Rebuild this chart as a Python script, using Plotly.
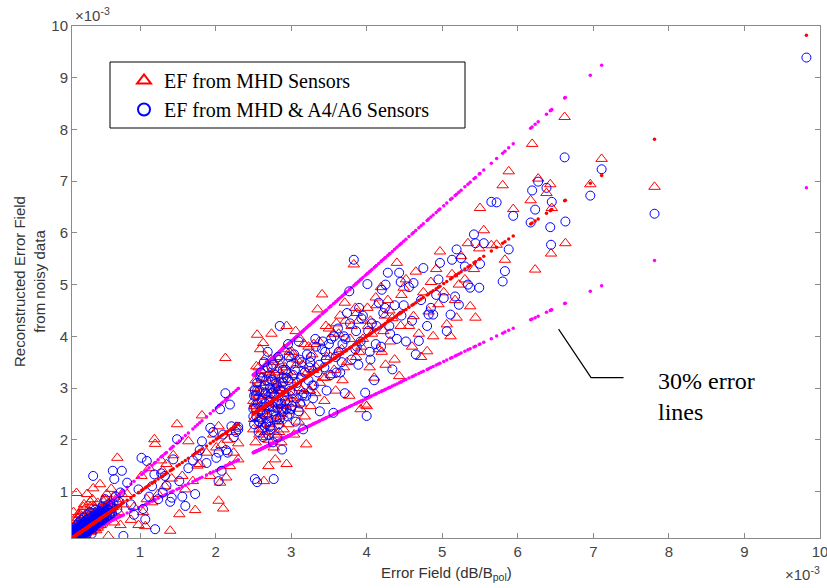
import plotly.graph_objects as go

# ---- data (units of 1e-3) : true EF, EF from MHD sensors, EF from MHD & A4/A6 sensors ----
true_low = [
    0.12,0.13,0.14,0.15,0.15,0.16,0.17,0.18,0.18,0.19,0.20,0.21,0.22,0.22,0.23,0.24,0.25,0.26,0.27,0.28,
    0.29,0.30,0.31,0.32,0.33,0.34,0.35,0.36,0.37,0.38,0.40,0.41,0.42,0.44,0.45,0.47,0.48,0.50,0.52,0.54,
    0.56,0.58,0.60,0.62,0.64,0.66,0.68,0.70,0.72,0.74,0.76,0.78,
    0.11,0.12,0.14,0.16,0.17,0.19,0.21,0.23,0.24,0.26,0.28,0.30,0.32,0.33,0.35,0.36,0.38,0.39,0.41,0.43,
    0.46,0.49,0.51,0.53,0.55,0.57,0.59,0.61,0.63,0.65,0.12,0.15,0.18,0.22,0.25,0.29,0.34,0.40,0.44,0.50,
    0.10,0.11,0.11,0.12,0.13,0.13,0.14,0.15,0.16,0.16,0.17,0.18,0.19,0.20,0.20,0.21,0.22,0.23,0.24,0.25,
    0.25,0.26,0.27,0.28,0.29,0.30,0.31,0.32,0.33,0.34,0.35,0.36,0.37,0.38,0.39,0.40,0.41,0.42,0.43,0.44,
    0.45,0.46,0.47,0.48,0.49,0.50,0.51,0.52,0.53,0.55,0.57,0.58,0.60,0.14,0.18,0.22,0.26,0.30,0.34,0.38,
    0.10,0.11,0.12,0.13,0.14,0.15,0.16,0.17,0.18,0.19,0.20,0.21,0.22,0.23,0.24,0.25,0.26,0.27,0.28,0.29,
    0.30,0.31,0.32,0.33,0.34,0.35,0.36,0.37,0.38,0.39,0.40,0.42,0.44,0.46,0.48,0.50,0.52,0.54,0.13,0.17,
    0.21,0.25,0.29,0.33,0.37,0.41,0.45,0.20,0.28,0.36,
]
mhd_low = [
    0.15,0.30,0.12,0.45,0.20,0.97,0.25,0.14,0.55,0.35,0.22,0.40,0.62,0.18,0.30,0.50,0.28,0.75,0.33,0.20,
    0.45,0.95,0.38,0.26,0.55,0.70,0.30,0.48,0.85,1.06,0.42,0.60,0.25,0.78,0.50,1.14,0.35,0.65,0.80,0.45,
    0.95,0.14,0.55,1.05,0.70,0.40,0.85,1.65,0.60,0.35,0.95,0.75,
    0.12,0.22,0.35,0.16,0.40,0.28,0.55,0.20,0.38,0.65,0.30,0.42,0.52,0.24,0.60,0.45,0.33,0.72,0.50,0.40,
    0.58,0.68,0.45,0.85,0.62,0.50,0.75,0.80,0.58,0.90,0.60,0.26,0.48,0.12,0.70,0.35,0.80,0.55,0.30,0.45,
    0.13,0.10,0.20,0.14,0.25,0.11,0.18,0.28,0.15,0.22,0.32,0.12,0.26,0.19,0.35,0.24,0.16,0.30,0.38,0.22,
    0.33,0.27,0.42,0.20,0.36,0.45,0.29,0.40,0.25,0.48,0.38,0.32,0.52,0.44,0.28,0.55,0.36,0.47,0.58,0.41,
    0.34,0.60,0.52,0.44,0.65,0.38,0.56,0.68,0.48,0.62,0.72,0.50,0.66,0.18,0.12,0.30,0.15,0.40,0.22,0.50,
    0.16,0.10,0.22,0.13,0.26,0.17,0.12,0.30,0.21,0.15,0.34,0.24,0.18,0.38,0.27,0.21,0.41,0.31,0.24,0.45,
    0.34,0.28,0.48,0.37,0.31,0.52,0.40,0.34,0.55,0.44,0.38,0.58,0.47,0.62,0.42,0.66,0.55,0.70,0.11,0.15,
    0.14,0.20,0.33,0.26,0.45,0.30,0.52,0.12,0.16,0.24,
]
a4a6_low = [
    0.14,0.20,0.25,0.18,0.30,0.22,0.35,0.15,0.28,0.40,0.20,0.32,0.26,0.45,0.30,0.22,0.38,0.50,0.28,0.42,
    0.35,0.55,0.30,0.48,0.40,0.60,0.38,0.52,0.45,1.30,0.42,0.65,0.50,0.40,0.58,0.62,0.55,0.70,0.48,0.85,
    0.60,0.75,0.55,0.68,1.40,1.24,0.90,0.66,0.80,0.98,1.40,0.14,
    0.12,0.18,0.22,0.28,0.20,0.26,0.30,0.34,0.25,0.36,0.32,0.40,0.35,0.44,0.42,0.38,0.50,0.46,0.55,0.48,
    0.52,0.60,0.58,0.62,0.50,0.66,0.64,0.72,0.58,0.76,0.16,0.24,0.12,0.36,0.18,0.45,0.28,0.52,0.62,0.44,
    0.10,0.16,0.11,0.19,0.13,0.22,0.17,0.12,0.24,0.15,0.20,0.26,0.14,0.23,0.30,0.18,0.27,0.33,0.21,0.29,
    0.16,0.35,0.25,0.31,0.38,0.24,0.34,0.28,0.41,0.36,0.30,0.44,0.33,0.40,0.47,0.36,0.43,0.50,0.39,0.46,
    0.53,0.42,0.49,0.56,0.45,0.52,0.58,0.48,0.55,0.60,0.52,0.63,0.57,0.12,0.14,0.17,0.20,0.22,0.26,0.30,
    0.14,0.12,0.18,0.15,0.21,0.13,0.19,0.24,0.16,0.22,0.27,0.19,0.25,0.30,0.21,0.28,0.33,0.24,0.31,0.36,
    0.27,0.34,0.39,0.30,0.37,0.42,0.33,0.40,0.45,0.36,0.43,0.48,0.41,0.53,0.46,0.57,0.50,0.61,0.10,0.13,
    0.16,0.19,0.23,0.27,0.31,0.35,0.39,0.11,0.14,0.18,
]

true_mid = [
    0.83,0.88,0.92,0.98,1.02,1.04,1.07,1.09,1.12,1.16,1.19,1.20,1.24,1.28,1.30,1.33,1.35,1.40,1.42,1.44,
    1.49,1.52,1.56,1.60,1.64,1.70,1.73,1.76,1.79,1.82,1.88,1.93,1.97,2.01,2.04,2.04,2.06,2.08,2.10,2.13,
    2.14,2.16,2.19,2.21,2.24,2.27,2.30,2.30,
]
mhd_mid = [
    0.95,0.45,0.70,0.35,1.30,0.60,0.33,0.85,1.45,0.79,2.01,1.92,0.95,1.60,1.40,1.10,1.53,0.24,1.25,1.70,
    2.30,0.56,1.30,1.04,1.97,1.20,0.64,1.50,1.53,2.47,1.75,1.30,2.10,1.85,2.26,0.82,1.17,1.90,0.67,3.58,
    1.27,2.00,1.49,2.15,1.75,2.25,1.93,1.62,
]
a4a6_mid = [
    1.17,0.75,0.55,1.04,1.65,0.66,0.46,1.59,0.90,1.10,1.33,0.27,0.85,1.35,0.98,1.30,1.11,0.80,0.88,1.62,
    2.01,1.20,0.90,0.72,1.45,1.60,0.95,1.69,1.80,1.97,1.55,2.23,2.15,1.65,1.20,1.75,2.59,1.40,2.10,2.90,
    1.80,1.75,2.68,2.26,2.05,2.15,2.20,2.25,
]

true_dense = [
    2.50,2.51,2.52,2.53,2.54,2.55,2.56,2.57,2.58,2.59,2.60,2.61,2.62,2.63,2.64,2.65,2.66,2.67,2.68,2.69,
    2.70,2.71,2.72,2.73,2.74,2.75,2.76,2.77,2.78,2.79,2.80,2.81,2.82,2.83,2.84,2.85,2.86,2.87,2.88,2.89,
    2.90,2.92,2.94,2.96,2.98,3.00,3.02,3.04,3.06,3.08,3.10,3.12,3.14,3.16,3.18,3.20,
    3.23,3.26,3.29,3.32,3.35,3.38,3.41,3.44,3.47,3.50,
    3.53,3.56,3.59,3.62,3.65,3.68,3.71,3.74,3.77,3.80,
    3.83,3.86,3.89,3.92,3.95,3.98,4.01,4.04,4.07,4.10,
    4.13,4.16,4.19,4.22,4.25,4.28,4.31,4.34,4.37,4.40,4.43,4.46,
    2.94,4.00,2.55,2.70,2.75,2.80,2.85,2.90,3.00,3.05,3.15,3.25,3.30,3.45,3.60,3.70,3.85,3.90,4.05,4.20,
    4.30,4.45,2.52,2.58,2.62,2.66,2.72,2.76,2.82,2.88,2.96,3.10,
    2.50,2.51,2.53,2.55,2.57,2.59,2.61,2.63,2.65,2.67,2.69,2.71,2.73,2.75,2.77,2.79,2.81,2.83,2.85,2.87,
    2.89,2.91,2.93,2.95,2.97,2.99,3.01,3.03,3.07,3.11,3.13,3.17,3.21,3.24,3.28,3.33,3.37,3.42,3.46,3.52,
    3.57,3.63,3.67,3.72,3.78,3.87,3.93,4.02,4.12,4.24,
]
mhd_dense = [
    2.20,3.00,2.65,1.95,3.42,4.03,2.40,2.85,2.10,3.75,2.55,3.20,2.30,3.87,1.20,2.75,3.35,2.05,2.90,2.45,
    1.49,3.10,2.60,3.55,4.05,2.25,2.95,1.85,3.30,1.62,2.70,3.60,2.35,3.05,2.15,2.80,3.45,1.95,2.50,3.15,
    2.65,3.40,4.20,2.30,3.70,2.85,3.25,2.10,4.10,3.55,2.60,3.95,2.95,3.30,2.45,1.91,
    3.80,2.65,3.35,2.90,4.52,3.10,4.81,2.75,3.60,4.15,
    3.25,4.05,2.95,3.70,4.40,3.15,4.65,3.50,2.85,4.20,
    5.39,3.60,4.30,2.59,3.95,2.68,4.55,3.40,4.05,3.20,
    4.60,3.75,4.95,4.10,3.45,4.70,3.90,4.35,3.55,5.42,3.23,4.80,
    1.53,2.65,2.90,2.00,3.20,2.40,3.00,2.20,3.60,2.70,3.45,2.95,3.85,3.20,4.25,3.40,4.55,3.70,4.30,3.70,
    4.50,4.20,2.70,3.10,2.55,2.15,3.30,2.60,2.95,3.25,2.70,2.35,
    2.75,2.40,3.15,2.60,3.40,2.90,2.20,3.05,2.50,3.60,2.85,2.30,3.25,2.70,3.50,2.10,2.95,3.35,2.45,3.10,
    2.65,3.75,2.90,3.30,2.55,3.15,3.70,2.80,3.45,3.00,2.70,3.85,3.30,2.95,3.65,3.40,3.90,3.20,4.20,3.60,
    3.35,4.05,3.75,4.30,3.95,4.45,3.80,4.20,4.75,4.40,
]
a4a6_dense = [
    2.60,2.30,1.24,2.85,2.45,3.10,2.70,2.15,2.95,2.55,3.30,2.40,2.80,2.05,3.50,2.25,2.90,3.15,2.50,3.70,
    2.35,2.75,3.00,2.20,3.40,2.65,1.95,1.24,2.85,3.25,2.45,3.05,2.60,3.60,2.30,4.20,2.95,2.70,1.81,3.35,
    2.55,2.75,3.20,3.85,2.50,3.45,2.90,3.65,2.35,3.10,3.90,2.70,3.50,2.20,3.30,2.85,
    3.15,3.60,2.80,3.95,3.30,2.55,3.75,3.40,2.95,3.85,
    3.95,2.52,3.60,4.15,3.30,3.85,2.90,4.45,4.87,3.55,
    5.48,4.10,3.45,3.90,4.40,2.91,5.01,3.70,4.25,3.15,
    4.20,4.65,3.80,4.45,5.00,5.23,4.05,3.36,4.60,3.95,5.23,4.40,
    2.60,2.46,1.18,2.10,2.90,3.10,2.40,3.20,2.60,3.35,2.85,3.50,3.05,3.70,3.30,4.00,3.75,4.55,3.55,4.90,
    4.20,5.05,2.95,2.35,3.20,2.70,2.25,3.45,2.05,2.95,3.15,2.55,
    2.45,2.85,2.60,2.95,2.35,3.20,2.75,2.50,3.05,2.30,3.40,2.65,2.90,3.15,2.55,3.00,2.40,2.70,3.55,2.60,
    3.10,2.85,3.35,2.45,3.60,2.95,2.65,3.25,2.80,3.55,3.20,2.90,3.65,3.40,3.05,3.80,3.45,3.90,3.55,3.25,
    4.00,3.70,3.50,3.95,4.25,3.80,4.35,4.10,3.85,4.55,
]

true_high = [
    4.49,4.52,4.56,4.60,4.62,4.65,4.69,4.72,4.75,4.80,4.82,4.85,4.88,4.92,4.95,4.97,5.02,5.06,5.11,5.13,
    5.17,5.19,5.22,5.25,5.30,5.34,5.37,5.42,5.44,5.49,5.50,5.55,5.65,5.72,5.83,5.80,5.88,5.94,
    6.19,6.17,6.23,6.27,6.38,6.43,6.45,6.44,6.62,6.63,6.96,7.11,7.81,9.82,
]
mhd_high = [
    4.94,5.10,4.20,3.80,4.39,5.25,4.05,3.60,4.85,3.71,4.48,5.05,4.00,5.30,4.62,5.64,4.85,4.23,4.00,5.20,
    4.70,4.36,5.00,5.55,5.10,5.80,4.58,5.30,4.36,5.70,6.48,6.05,5.76,5.77,5.48,6.92,7.19,6.46,
    7.72,6.63,5.29,7.05,6.77,6.94,6.48,5.60,8.24,5.80,6.94,7.43,6.89,None,
]
a4a6_high = [
    4.60,3.90,4.95,4.30,5.03,3.65,3.91,4.70,5.32,4.20,4.42,4.55,4.42,4.80,5.10,5.42,4.74,4.10,4.42,5.48,
    4.77,5.68,4.61,5.51,5.35,5.00,4.94,5.97,5.80,4.94,5.40,5.80,6.60,6.59,5.26,5.06,5.68,6.33,
    6.82,6.20,6.45,6.99,6.87,6.11,6.60,5.77,7.46,6.22,6.72,7.23,6.37,9.39,
]

x_ticks = [1, 2, 3, 4, 5, 6, 7, 8, 9, 10]
y_ticks = [1, 2, 3, 4, 5, 6, 7, 8, 9, 10]
error_band = 0.30

true_ef = true_low + true_mid + true_dense + true_high
ef_mhd = mhd_low + mhd_mid + mhd_dense + mhd_high
ef_mhd_a4a6 = a4a6_low + a4a6_mid + a4a6_dense + a4a6_high

# reference lines: exact value and +/-30% at each case's true EF
ref_exact = list(true_ef)
ref_upper = [v * (1 + error_band) for v in true_ef]
ref_lower = [v * (1 - error_band) for v in true_ef]


def ref_trace(ys, col):
    return go.Scatter(
        x=true_ef, y=ys, mode="markers", showlegend=False, hoverinfo="skip",
        marker=dict(symbol="circle", size=3.5, color=col, line=dict(width=0)),
    )


fig = go.Figure()
fig.add_trace(go.Scatter(
    x=true_ef, y=ef_mhd, mode="markers", name="EF from MHD Sensors",
    marker=dict(symbol="triangle-up-open", size=10, color="#ff0000", line=dict(width=1, color="#ff0000")),
))
fig.add_trace(ref_trace(ref_upper, "#ff00ff"))
fig.add_trace(ref_trace(ref_lower, "#ff00ff"))
fig.add_trace(go.Scatter(
    x=true_ef, y=ef_mhd_a4a6, mode="markers", name="EF from MHD &amp; A4/A6 Sensors",
    marker=dict(symbol="circle-open", size=9, color="#0000ff", line=dict(width=1, color="#0000ff")),
))
fig.add_trace(ref_trace(ref_exact, "#ff0000"))

tick_font = dict(family="Liberation Sans, Arial, sans-serif", size=15, color="#444444")
title_font = dict(family="Liberation Sans, Arial, sans-serif", size=15, color="#333333")
axis_common = dict(
    showgrid=False, zeroline=False, showline=True, linecolor="#8a8a8a", linewidth=1,
    mirror="ticks", ticks="inside", ticklen=5, tickcolor="#8a8a8a", tickfont=tick_font,
    automargin=False, ticklabeloverflow="allow",
)

W, H = 827, 588
PL, PR, PT, PB = 72, 820, 26, 538  # plot area in pixels


def px(x):
    return (x - PL) / (PR - PL)


def py(y):
    return (PB - y) / (PB - PT)


fig.update_layout(
    template="none",
    width=W, height=H,
    margin=dict(l=PL, r=W - PR, t=PT, b=H - PB, pad=0),
    paper_bgcolor="white", plot_bgcolor="white",
    xaxis=dict(range=[0.1, 10], tickvals=x_ticks, ticktext=[str(t) for t in x_ticks], **axis_common),
    yaxis=dict(range=[0.1, 10], tickvals=y_ticks, ticktext=[str(t) for t in y_ticks], **axis_common),
    legend=dict(
        x=px(124), y=py(61), xanchor="left", yanchor="top",
        bgcolor="rgba(0,0,0,0)", borderwidth=0,
        font=dict(family="Liberation Serif, Times New Roman, serif", size=20, color="black"),
        tracegroupgap=0, itemsizing="constant", traceorder="normal",
    ),
    shapes=[
        dict(type="rect", xref="paper", yref="paper", x0=px(110), x1=px(465), y0=py(128), y1=py(62),
             line=dict(color="black", width=1), fillcolor="white", layer="below"),
        dict(type="path", xref="x", yref="y", path="M 6.54 4.14 L 6.97 3.20 L 7.40 3.20",
             line=dict(color="black", width=1.2)),
    ],
    annotations=[
        dict(text="30% error<br>lines", xref="paper", yref="paper",
             x=px(656), y=py(366), xanchor="left", yanchor="top",
             showarrow=False, align="left",
             font=dict(family="Liberation Serif, Times New Roman, serif", size=24, color="black")),
        dict(text="Reconstructed Error Field<br>from noisy data", xref="paper", yref="paper",
             x=px(29), y=0.5, xanchor="center", yanchor="middle", textangle=-90,
             showarrow=False, font=title_font),
        dict(text="Error Field (dB/B<sub>pol</sub>)", xref="paper", yref="paper",
             x=px(446), y=py(573), xanchor="center", yanchor="middle",
             showarrow=False, font=title_font),
        dict(text="×10<sup>-3</sup>", xref="paper", yref="paper",
             x=px(73), y=py(26), xanchor="left", yanchor="bottom",
             showarrow=False, font=dict(family="Liberation Sans, Arial, sans-serif", size=15, color="#444444")),
        dict(text="×10<sup>-3</sup>", xref="paper", yref="paper",
             x=px(822), y=py(562), xanchor="right", yanchor="top",
             showarrow=False, font=dict(family="Liberation Sans, Arial, sans-serif", size=15, color="#444444")),
    ],
)

fig.write_html(
    "out.html",
    config={"displayModeBar": False},
    post_script="document.body.style.margin='0';document.body.style.overflow='hidden';",
)
